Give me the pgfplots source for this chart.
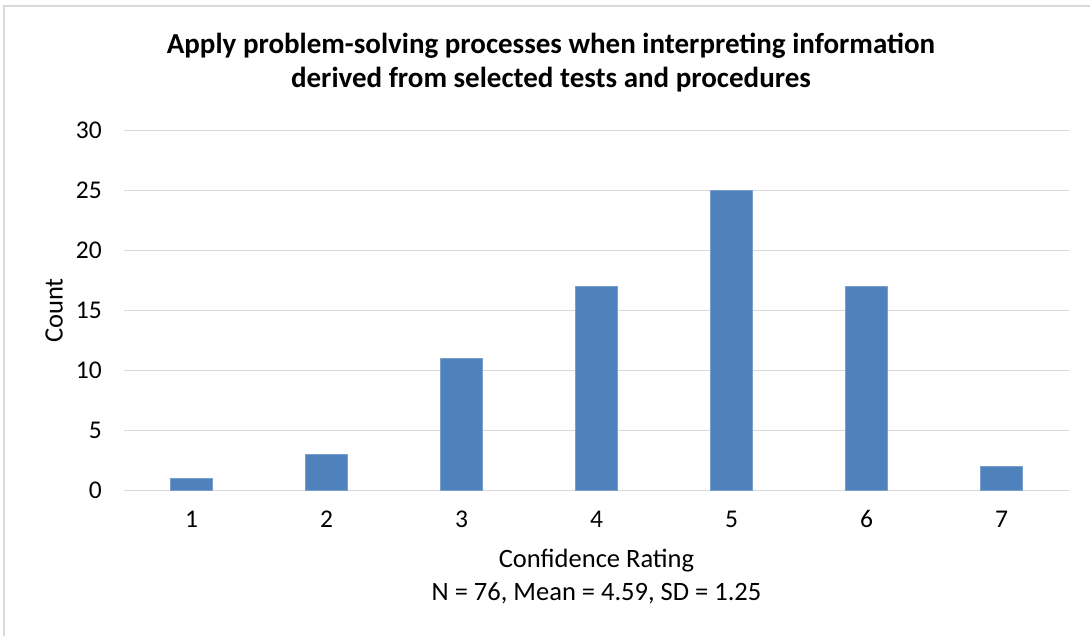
\documentclass[border=0pt]{standalone}
\usepackage{pgfplots}
\pgfplotsset{compat=1.18}
\usepackage{fontspec}
\setmainfont{Carlito}
\definecolor{barblue}{HTML}{4F81BD}
\definecolor{gridgray}{HTML}{D9D9D9}
\begin{document}
\begin{tikzpicture}[x=1pt,y=1pt]
\useasboundingbox (0,0) rectangle (1090,636);
\begin{scope}
\clip (0,0) rectangle (1090,636);
\draw[gridgray, line width=1.5pt] (4,-20) -- (4,630) -- (1110,630);
\end{scope}
\node[anchor=base, font=\fontsize{29}{35}\selectfont\bfseries] at (551,582.7) {Apply problem-solving processes when interpreting information};
\node[anchor=base, font=\fontsize{29}{35}\selectfont\bfseries] at (551,548) {derived from selected tests and procedures};
\begin{axis}[
  at={(124pt,145.3pt)}, anchor=south west,
  scale only axis, width=945pt, height=360pt,
  xmin=0.5, xmax=7.5, ymin=0, ymax=30,
  xtick={1,2,3,4,5,6,7}, ytick={0,5,10,15,20,25,30},
  /pgf/number format/assume math mode=true,
  axis line style={draw=none},
  major tick length=0pt,
  ymajorgrids, grid style={gridgray, line width=1.3pt},
  ticklabel style={font=\fontsize{25.5}{30}\selectfont},
  xticklabel style={anchor=base, yshift=-37.3pt},
  yticklabel style={anchor=east, inner sep=0pt, xshift=-22pt},
  xlabel={Confidence Rating},
  xlabel style={at={(rel axis cs:0.5,0)}, anchor=base, yshift=-77pt, font=\fontsize{26.5}{32}\selectfont},
  ylabel={Count},
  ylabel style={at={(rel axis cs:0,0.5)}, anchor=center, yshift=70pt, font=\fontsize{26.5}{32}\selectfont},
  ybar, bar width=42pt, bar shift=0pt,
]
\addplot[fill=barblue, draw=barblue!75!white, line width=0.8pt] coordinates {(1,1) (2,3) (3,11) (4,17) (5,25) (6,17) (7,2)};
\end{axis}
\node[anchor=base, font=\fontsize{26.5}{32}\selectfont] at (596.5,35) {N = 76, Mean = 4.59, SD = 1.25};
\end{tikzpicture}
\end{document}
